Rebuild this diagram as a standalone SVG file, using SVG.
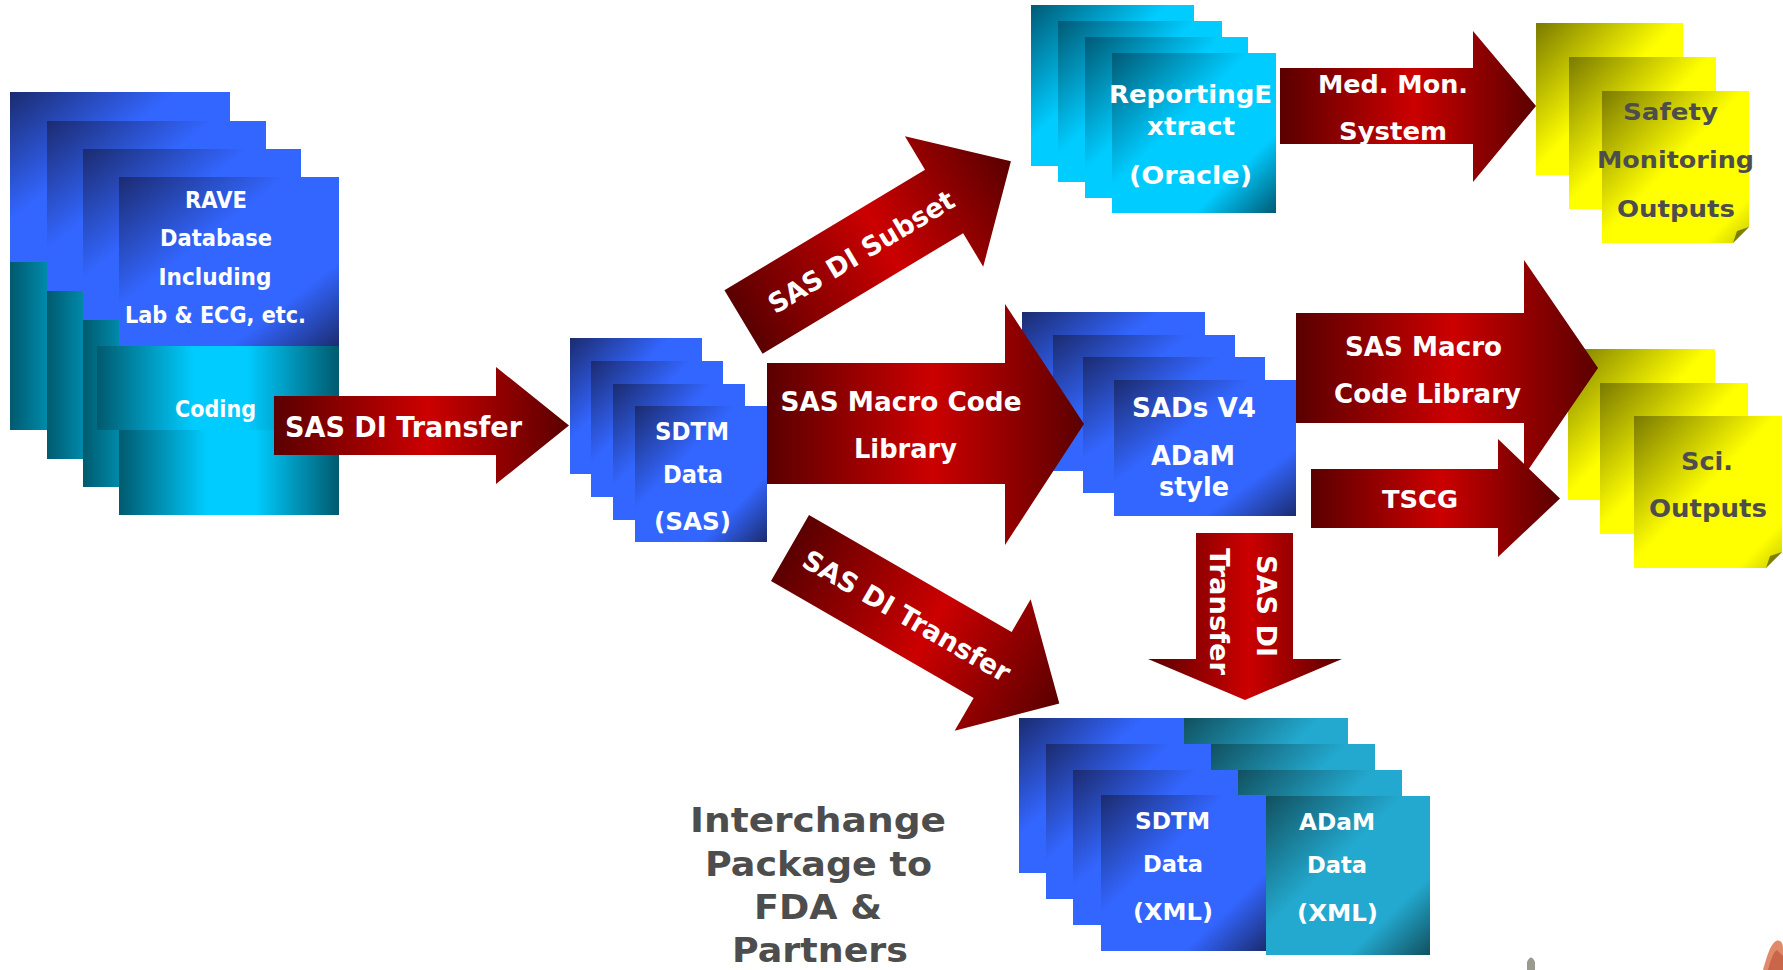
<svg xmlns="http://www.w3.org/2000/svg" width="1783" height="970" viewBox="0 0 1783 970">
<defs>
<linearGradient id="gBlue" x1="0" y1="0" x2="1" y2="1">
<stop offset="0" stop-color="#1B2B6F"/><stop offset="0.38" stop-color="#3366FF"/><stop offset="0.75" stop-color="#3366FF"/><stop offset="1" stop-color="#1B2B6F"/>
</linearGradient>
<linearGradient id="gTealH" x1="0" y1="0" x2="1" y2="0">
<stop offset="0" stop-color="#005A6E"/><stop offset="0.4" stop-color="#00CCFF"/><stop offset="0.62" stop-color="#00CCFF"/><stop offset="1" stop-color="#005A6E"/>
</linearGradient>
<linearGradient id="gCyan" x1="0" y1="0" x2="1" y2="1">
<stop offset="0" stop-color="#005A75"/><stop offset="0.42" stop-color="#00CCFF"/><stop offset="0.75" stop-color="#00CCFF"/><stop offset="1" stop-color="#005A75"/>
</linearGradient>
<linearGradient id="gAdam" x1="0" y1="0" x2="1" y2="1">
<stop offset="0" stop-color="#11505F"/><stop offset="0.42" stop-color="#23A9CF"/><stop offset="0.75" stop-color="#23A9CF"/><stop offset="1" stop-color="#11505F"/>
</linearGradient>
<linearGradient id="gYellow" x1="0" y1="0" x2="1" y2="1">
<stop offset="0" stop-color="#7A7A00"/><stop offset="0.48" stop-color="#FFFF00"/><stop offset="0.85" stop-color="#FFFF00"/><stop offset="1" stop-color="#C8C800"/>
</linearGradient>
<linearGradient id="gRed" x1="0" y1="0" x2="1" y2="0">
<stop offset="0" stop-color="#5A0000"/><stop offset="0.52" stop-color="#CC0000"/><stop offset="1" stop-color="#5A0000"/>
</linearGradient>
<style>
.blue{fill:url(#gBlue)}
.tealh{fill:url(#gTealH)}
.cyan{fill:url(#gCyan)}
.adam{fill:url(#gAdam)}
.yel{fill:url(#gYellow)}
.fold{fill:#7E7E00}
.arrow{fill:url(#gRed)}
text{font-family:"DejaVu Sans","Verdana",sans-serif;font-weight:bold;text-anchor:middle}
.w{fill:#FFFFFF}
.g{fill:#4D4D4D}
</style>
</defs>
<rect width="1783" height="970" fill="#FFFFFF"/>

<g id="rave-database">
<rect class="blue" x="10" y="92" width="220" height="170"/>
<rect class="tealh" x="10" y="262" width="220" height="168"/>
<rect class="blue" x="47" y="121" width="219" height="170"/>
<rect class="tealh" x="47" y="291" width="219" height="168"/>
<rect class="blue" x="83" y="149" width="218" height="171"/>
<rect class="tealh" x="83" y="320" width="218" height="167"/>
<rect class="blue" x="119" y="177" width="220" height="170"/>
<rect class="tealh" x="119" y="347" width="220" height="168"/>
<rect class="tealh" x="97" y="346" width="242" height="84"/>
<text class="w" font-size="23" x="216" y="208" textLength="62" lengthAdjust="spacingAndGlyphs">RAVE</text>
<text class="w" font-size="23" x="216" y="246" textLength="112" lengthAdjust="spacingAndGlyphs">Database</text>
<text class="w" font-size="23" x="215" y="285" textLength="113" lengthAdjust="spacingAndGlyphs">Including</text>
<text class="w" font-size="23" x="215.5" y="323" textLength="181" lengthAdjust="spacingAndGlyphs">Lab &amp; ECG, etc.</text>
<text class="w" font-size="23" x="215.5" y="417" textLength="81" lengthAdjust="spacingAndGlyphs">Coding</text>
</g>

<g id="sdtm-sas">
<rect class="blue" x="570" y="338" width="132" height="136"/>
<rect class="blue" x="591" y="361" width="132" height="136"/>
<rect class="blue" x="613" y="384" width="132" height="136"/>
<rect class="blue" x="635" y="406" width="132" height="136"/>
<text class="w" font-size="24" x="692" y="440" textLength="74" lengthAdjust="spacingAndGlyphs">SDTM</text>
<text class="w" font-size="24" x="693" y="483" textLength="60" lengthAdjust="spacingAndGlyphs">Data</text>
<text class="w" font-size="24" x="692.5" y="530" textLength="77" lengthAdjust="spacingAndGlyphs">(SAS)</text>
</g>

<g id="reporting-extract">
<rect class="cyan" x="1031" y="5" width="163" height="161"/>
<rect class="cyan" x="1058" y="21" width="164" height="161"/>
<rect class="cyan" x="1085" y="37" width="163" height="161"/>
<rect class="cyan" x="1112" y="53" width="164" height="160"/>
<text class="w" font-size="25" x="1190.5" y="103" textLength="163" lengthAdjust="spacingAndGlyphs">ReportingE</text>
<text class="w" font-size="25" x="1191" y="135" textLength="88" lengthAdjust="spacingAndGlyphs">xtract</text>
<text class="w" font-size="25" x="1190.5" y="184" textLength="123" lengthAdjust="spacingAndGlyphs">(Oracle)</text>
</g>

<g id="safety-outputs">
<rect class="yel" x="1536" y="23" width="147" height="152"/>
<rect class="yel" x="1569" y="57" width="147" height="152"/>
<polygon class="yel" points="1602,91 1749,91 1749,227 1733,243 1602,243"/>
<polygon class="fold" points="1749,227 1733,243 1737,231"/>
<text class="g" font-size="23" x="1670.5" y="120" textLength="95" lengthAdjust="spacingAndGlyphs">Safety</text>
<text class="g" font-size="23" x="1675.5" y="168" textLength="157" lengthAdjust="spacingAndGlyphs">Monitoring</text>
<text class="g" font-size="23" x="1676" y="217" textLength="118" lengthAdjust="spacingAndGlyphs">Outputs</text>
</g>

<g id="sads-v4">
<rect class="blue" x="1022" y="312" width="183" height="136"/>
<rect class="blue" x="1053" y="335" width="182" height="136"/>
<rect class="blue" x="1083" y="357" width="182" height="136"/>
<rect class="blue" x="1114" y="380" width="182" height="136"/>
<text class="w" font-size="26" x="1194" y="417" textLength="124" lengthAdjust="spacingAndGlyphs">SADs V4</text>
<text class="w" font-size="26" x="1193" y="465" textLength="84" lengthAdjust="spacingAndGlyphs">ADaM</text>
<text class="w" font-size="26" x="1194" y="496" textLength="70" lengthAdjust="spacingAndGlyphs">style</text>
</g>

<g id="sci-outputs">
<rect class="yel" x="1568" y="349" width="147" height="151"/>
<rect class="yel" x="1600" y="383" width="148" height="151"/>
<polygon class="yel" points="1634,416 1782,416 1782,552 1766,568 1634,568"/>
<polygon class="fold" points="1782,552 1766,568 1770,556"/>
<text class="g" font-size="25" x="1707" y="470" textLength="52" lengthAdjust="spacingAndGlyphs">Sci.</text>
<text class="g" font-size="25" x="1708" y="517" textLength="118" lengthAdjust="spacingAndGlyphs">Outputs</text>
</g>

<g id="xml-package">
<rect class="blue" x="1019" y="718" width="165" height="155"/>
<rect class="adam" x="1184" y="718" width="164" height="155"/>
<rect class="blue" x="1046" y="744" width="165" height="155"/>
<rect class="adam" x="1211" y="744" width="164" height="155"/>
<rect class="blue" x="1073" y="770" width="165" height="155"/>
<rect class="adam" x="1238" y="770" width="164" height="155"/>
<rect class="blue" x="1101" y="795" width="165" height="156"/>
<rect class="adam" x="1266" y="796" width="164" height="159"/>
<text class="w" font-size="23" x="1172.5" y="829" textLength="75" lengthAdjust="spacingAndGlyphs">SDTM</text>
<text class="w" font-size="23" x="1173" y="872" textLength="60" lengthAdjust="spacingAndGlyphs">Data</text>
<text class="w" font-size="23" x="1173" y="920" textLength="80" lengthAdjust="spacingAndGlyphs">(XML)</text>
<text class="w" font-size="23" x="1337" y="830" textLength="76" lengthAdjust="spacingAndGlyphs">ADaM</text>
<text class="w" font-size="23" x="1337" y="873" textLength="60" lengthAdjust="spacingAndGlyphs">Data</text>
<text class="w" font-size="23" x="1337.5" y="921" textLength="81" lengthAdjust="spacingAndGlyphs">(XML)</text>
</g>

<g id="interchange-label">
<text class="g" font-size="34" x="818" y="832" textLength="256" lengthAdjust="spacingAndGlyphs">Interchange</text>
<text class="g" font-size="34" x="818.5" y="876" textLength="227" lengthAdjust="spacingAndGlyphs">Package to</text>
<text class="g" font-size="34" x="818" y="919" textLength="128" lengthAdjust="spacingAndGlyphs">FDA &amp;</text>
<text class="g" font-size="34" x="820" y="962" textLength="176" lengthAdjust="spacingAndGlyphs">Partners</text>
</g>

<g id="corner-fragments">
<path d="M1527,970 L1527,962 Q1531,953 1535,962 L1535,970 Z" fill="#9A9A8E"/>
<path d="M1763,970 C1766,960 1770,944 1776,941 C1781,939 1783,944 1783,948 L1783,970 Z" fill="#E08A6A"/>
<path d="M1768,970 C1770,962 1773,952 1777,950 L1783,956 L1783,970 Z" fill="#C9664A"/>
</g>

<g id="connectors">
<g id="arrow-sas-di-transfer-1">
<polygon class="arrow" points="274,396 496,396 496,367 569,425.5 496,484 496,455 274,455"/>
<text class="w" font-size="28" x="403.5" y="437" textLength="237" lengthAdjust="spacingAndGlyphs">SAS DI Transfer</text>
</g>
<g id="arrow-sas-di-subset" transform="translate(743.5,322) rotate(-31)">
<polygon class="arrow" points="0,-37 234,-37 234,-76 312,0 234,76 234,37 0,37"/>
<text class="w" font-size="27" x="137" y="10" textLength="212" lengthAdjust="spacingAndGlyphs">SAS DI Subset</text>
</g>
<g id="arrow-sas-macro-code-library">
<polygon class="arrow" points="767,363 1005,363 1005,304 1084,424 1005,545 1005,484 767,484"/>
<text class="w" font-size="26" x="901" y="411" textLength="241" lengthAdjust="spacingAndGlyphs">SAS Macro Code</text>
<text class="w" font-size="26" x="905.5" y="458" textLength="103" lengthAdjust="spacingAndGlyphs">Library</text>
</g>
<g id="arrow-sas-di-transfer-2" transform="translate(790,548) rotate(30)">
<polygon class="arrow" points="0,-38 234,-38 234,-76 311,0 234,76 234,38 0,38"/>
<text class="w" font-size="27" x="135" y="10" textLength="235" lengthAdjust="spacingAndGlyphs">SAS DI Transfer</text>
</g>
<g id="arrow-med-mon">
<polygon class="arrow" points="1280,68 1473,68 1473,31 1536,106 1473,182 1473,144 1280,144"/>
<text class="w" font-size="24" x="1393" y="93" textLength="150" lengthAdjust="spacingAndGlyphs">Med. Mon.</text>
<text class="w" font-size="24" x="1393" y="140" textLength="108" lengthAdjust="spacingAndGlyphs">System</text>
</g>
<g id="arrow-sas-macro-right">
<polygon class="arrow" points="1296,313 1524,313 1524,260 1598,368 1524,476 1524,423 1296,423"/>
<text class="w" font-size="26" x="1423.5" y="356" textLength="157" lengthAdjust="spacingAndGlyphs">SAS Macro</text>
<text class="w" font-size="26" x="1427.5" y="403" textLength="187" lengthAdjust="spacingAndGlyphs">Code Library</text>
</g>
<g id="arrow-tscg">
<polygon class="arrow" points="1311,469 1498,469 1498,439 1560,498.5 1498,557 1498,528 1311,528"/>
<text class="w" font-size="24" x="1420" y="508" textLength="76" lengthAdjust="spacingAndGlyphs">TSCG</text>
</g>
<g id="arrow-sas-di-transfer-down">
<polygon class="arrow" points="1196,533 1293,533 1293,659 1342,659 1245,700 1148,659 1196,659"/>
<g transform="translate(1245,609) rotate(90)">
<text class="w" font-size="27" x="-3" y="-12" textLength="102" lengthAdjust="spacingAndGlyphs">SAS DI</text>
<text class="w" font-size="27" x="2.5" y="35" textLength="127" lengthAdjust="spacingAndGlyphs">Transfer</text>
</g>
</g>
</g>
</svg>
